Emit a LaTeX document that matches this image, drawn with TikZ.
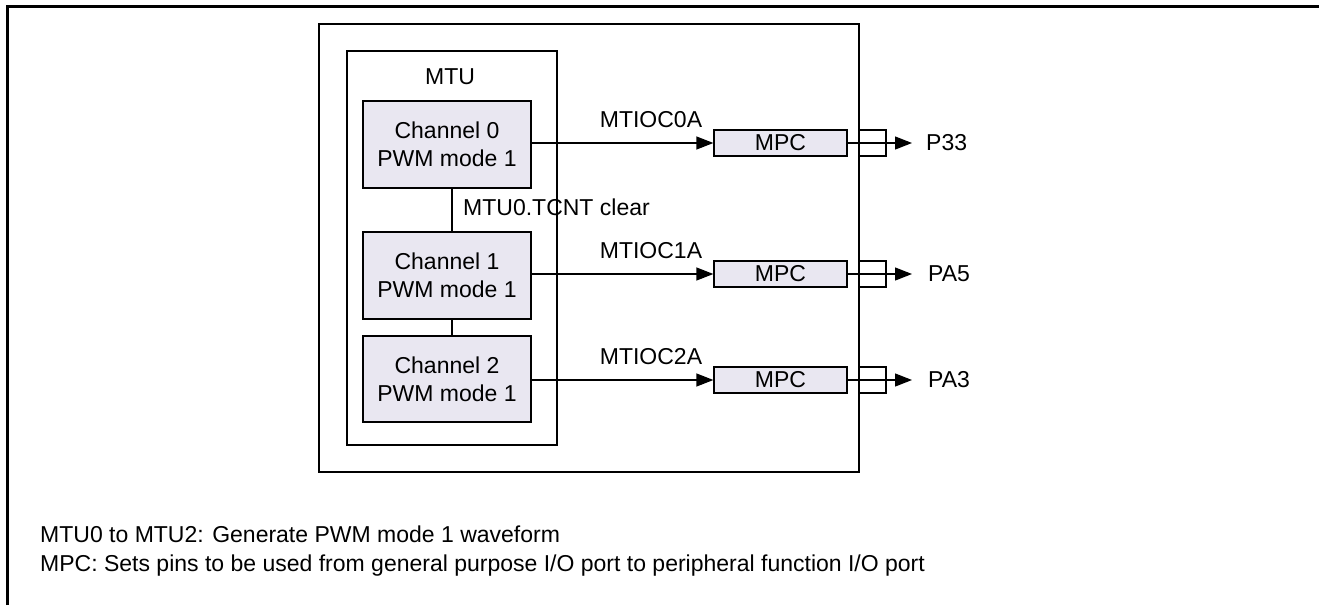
\documentclass[tikz,border=0pt]{standalone}
\usepackage{fontspec}
\setmainfont{Liberation Sans}
\usetikzlibrary{arrows.meta}
\definecolor{blockfill}{RGB}{233,231,241}
\begin{document}
\begin{tikzpicture}[x=1pt,y=-1pt,
  txt/.style={font=\fontsize{23}{28}\selectfont, inner sep=0pt},
  frame/.style={draw, line width=1.3pt},
  chbox/.style={frame, fill=blockfill, txt, align=center,
                minimum width=168pt, minimum height=87pt},
  mpcbox/.style={frame, fill=blockfill, txt,
                 minimum width=133pt, minimum height=26pt},
  pinbox/.style={frame, minimum width=27pt, minimum height=26pt},
  sig/.style={line width=1.3pt, -{Triangle[length=17pt,width=13pt]}},
  link/.style={line width=1.3pt}]
\useasboundingbox (0,0) rectangle (1319,605);

% page border (top and left edge)
\draw[line width=3pt] (7.5,605) -- (7.5,6.5) -- (1319,6.5);

% device and MTU outlines
\node[frame, minimum width=540pt, minimum height=448pt] (chip) at (589,248) {};
\node[frame, minimum width=210pt, minimum height=394pt] (mtu) at (452,248) {};
\node[txt] (mtulbl) at (450,76.5) {MTU};

% timer channels
\node[chbox] (ch0) at (447,144.5) {Channel 0\\PWM mode 1};
\node[chbox] (ch1) at (447,275.5) {Channel 1\\PWM mode 1};
\node[chbox, minimum height=86pt] (ch2) at (447,379) {Channel 2\\PWM mode 1};

\draw[link] (ch0.south -| mtu.center) -- (ch1.north -| mtu.center);
\draw[link] (ch1.south -| mtu.center) -- (ch2.north -| mtu.center);
\node[txt, anchor=west] (clr) at (463,207.5) {MTU0.TCNT clear};

% pin function controllers
\node[mpcbox] (mpc0) at (780.5,143) {MPC};
\node[mpcbox] (mpc1) at (780.5,274) {MPC};
\node[mpcbox] (mpc2) at (780.5,380) {MPC};

\node[pinbox] (pad0) at (872.5,143) {};
\node[pinbox] (pad1) at (872.5,274) {};
\node[pinbox] (pad2) at (872.5,380) {};

% output pin names
\node[txt, anchor=west] (pin0) at (926,143) {P33};
\node[txt, anchor=west] (pin1) at (928,274) {PA5};
\node[txt, anchor=west] (pin2) at (928,380) {PA3};
\coordinate (tip0) at (912,143);
\coordinate (tip1) at (912,274);
\coordinate (tip2) at (912,380);

% output compare signals
\draw[sig] (ch0.east |- mpc0.west) -- (mpc0.west);
\draw[sig] (ch1.east |- mpc1.west) -- (mpc1.west);
\draw[sig] (ch2.east |- mpc2.west) -- (mpc2.west);
\node[txt] (sig0) at (651,120) {MTIOC0A};
\node[txt] (sig1) at (651,250.5) {MTIOC1A};
\node[txt] (sig2) at (651,357) {MTIOC2A};

\draw[sig] (mpc0.east) -- (tip0);
\draw[sig] (mpc1.east) -- (tip1);
\draw[sig] (mpc2.east) -- (tip2);

% notes
\node[txt, anchor=base west] (note1) at (40,542) {MTU0 to MTU2: Generate PWM mode 1 waveform};
\node[txt, anchor=base west] (note2) at (40,571) {MPC: Sets pins to be used from general purpose I/O port to peripheral function I/O port};
\end{tikzpicture}
\end{document}
